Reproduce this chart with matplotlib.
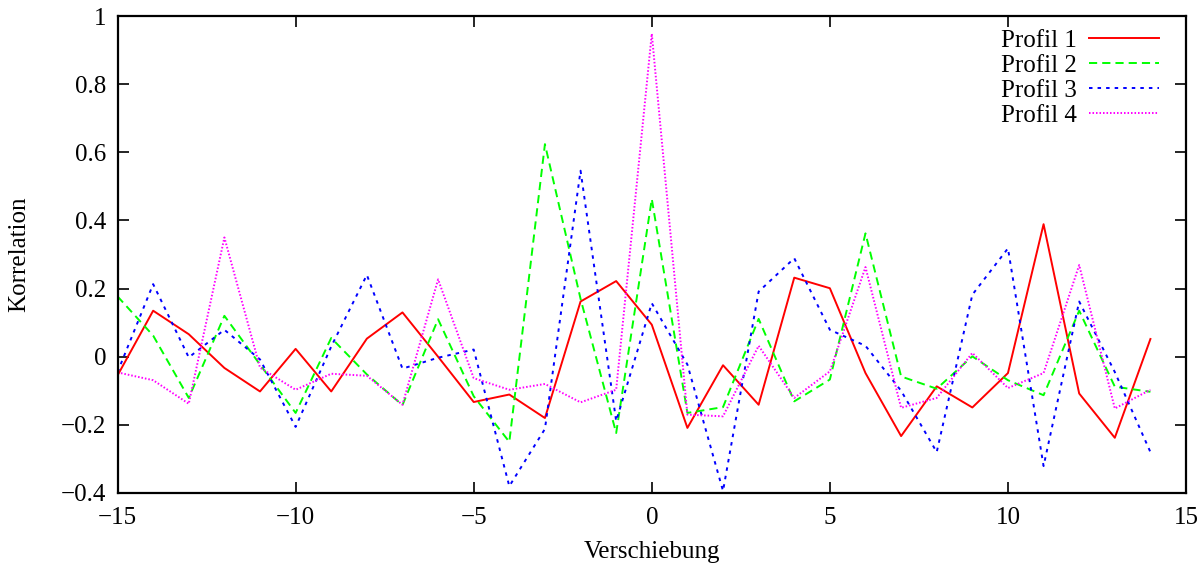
import matplotlib
matplotlib.use("Agg")
import matplotlib.pyplot as plt
import numpy as np

# Verschiebung (shift) values
shift = list(range(-15, 15))

# Korrelation for each profile
profil1 = [-0.055, 0.135, 0.066, -0.033, -0.102, 0.023, -0.102, 0.053, 0.130, 0.000,
           -0.133, -0.111, -0.180, 0.162, 0.222, 0.094, -0.209, -0.025, -0.141, 0.232,
           0.201, -0.048, -0.233, -0.087, -0.149, -0.048, 0.389, -0.108, -0.238, 0.052]
profil2 = [0.177, 0.062, -0.121, 0.120, -0.023, -0.165, 0.055, -0.052, -0.142, 0.110,
           -0.116, -0.250, 0.624, 0.170, -0.224, 0.463, -0.165, -0.148, 0.111, -0.131,
           -0.067, 0.362, -0.058, -0.094, 0.001, -0.069, -0.113, 0.135, -0.088, -0.103]
profil3 = [-0.045, 0.213, -0.002, 0.079, -0.008, -0.206, 0.030, 0.240, -0.035, -0.003,
           0.021, -0.380, -0.212, 0.546, -0.189, 0.157, -0.023, -0.394, 0.191, 0.289,
           0.079, 0.032, -0.100, -0.280, 0.182, 0.318, -0.321, 0.162, -0.045, -0.280]
profil4 = [-0.046, -0.069, -0.138, 0.350, -0.032, -0.097, -0.050, -0.056, -0.141, 0.227,
           -0.063, -0.097, -0.080, -0.134, -0.097, 0.948, -0.170, -0.175, 0.032, -0.121,
           -0.043, 0.263, -0.150, -0.121, 0.011, -0.092, -0.048, 0.269, -0.152, -0.097]

series_names = ["Profil 1", "Profil 2", "Profil 3", "Profil 4"]
x_ticks = [-15, -10, -5, 0, 5, 10, 15]
x_ticklabels = ["\u221215", "\u221210", "\u22125", "0", "5", "10", "15"]
y_ticks = [-0.4, -0.2, 0, 0.2, 0.4, 0.6, 0.8, 1]
y_ticklabels = ["\u22120.4", "\u22120.2", "0", "0.2", "0.4", "0.6", "0.8", "1"]

plt.rcParams["font.family"] = ["Liberation Serif", "DejaVu Serif"]
plt.rcParams["font.size"] = 18

fig = plt.figure(figsize=(12.03, 5.66), dpi=100)
ax = fig.add_axes([0.0977, 0.129, 0.8882, 0.8427])

lw = 1.4
ax.plot(shift, profil1, color="#ff0000", lw=lw, linestyle="-", label=series_names[0])
ax.plot(shift, profil2, color="#00ff00", lw=lw, linestyle=(0, (4.2, 2.6)), label=series_names[1])
ax.plot(shift, profil3, color="#0000ff", lw=lw, linestyle=(0, (1.8, 2.6)), label=series_names[2])
ax.plot(shift, profil4, color="#ff00ff", lw=lw, linestyle=(0, (0.8, 1.0)), label=series_names[3])

ax.set_xlim(-15, 15)
ax.set_ylim(-0.4, 1.0)
ax.set_xticks(x_ticks)
ax.set_xticklabels(x_ticklabels)
ax.set_yticks(y_ticks)
ax.set_yticklabels(y_ticklabels)

for s in ax.spines.values():
    s.set_linewidth(1.6)

ax.tick_params(axis="both", which="major", direction="in", length=8, width=1.2,
               top=True, right=True, labelsize=18)
ax.tick_params(axis="x", pad=10)
ax.tick_params(axis="y", pad=8)

ax.set_xlabel("Verschiebung", fontsize=18, labelpad=9)
ax.set_ylabel("Korrelation", fontsize=18, labelpad=22)

leg = ax.legend(loc="upper right", bbox_to_anchor=(0.991, 1.008), frameon=False,
                markerfirst=False, handlelength=2.8, handletextpad=0.5,
                labelspacing=0.1, fontsize=18, borderpad=0.2)

fig.savefig("out.png", dpi=100)
